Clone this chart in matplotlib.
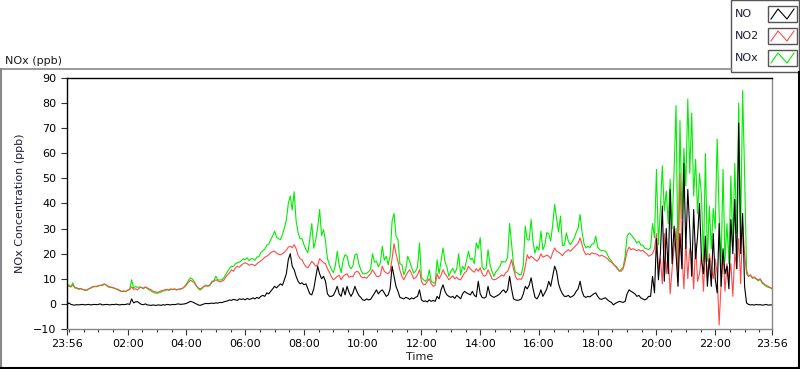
import numpy as np
import pandas as pd
import matplotlib
matplotlib.use("Agg")
from matplotlib import pyplot as plt
from matplotlib.lines import Line2D
from matplotlib.patches import Rectangle
import matplotlib.dates as mdates

# readings every 4 minutes from 23:56 to 23:56 next day, one row per hour
no2 = [
    7.2, 7.0, 6.8, 7.4, 6.6, 6.4, 6.0, 6.2, 5.8, 5.6, 5.5, 6.0, 6.4, 6.8, 7.0,
    7.0, 7.2, 7.4, 7.6, 8.0, 7.6, 7.0, 6.8, 6.6, 6.4, 6.0, 5.8, 5.4, 5.0, 5.2,
    5.0, 5.4, 5.8, 6.8, 5.8, 6.0, 5.6, 6.4, 6.6, 6.2, 6.7, 6.4, 6.0, 5.6, 5.0,
    4.8, 4.6, 4.8, 5.2, 5.4, 5.6, 5.8, 5.6, 6.0, 5.8, 6.0, 5.6, 5.8, 6.0, 6.2,
    6.8, 7.6, 8.6, 9.4, 9.0, 8.4, 7.2, 6.4, 6.0, 6.4, 7.0, 7.2, 7.0, 7.4, 8.6,
    9.0, 9.6, 9.2, 8.8, 9.0, 9.4, 10.6, 11.6, 12.4, 13.6, 13.0, 14.4, 15.0, 14.6, 15.4,
    16.0, 16.4, 16.0, 15.4, 15.8, 15.6, 15.2, 16.0, 16.6, 17.2, 17.8, 18.6, 19.0, 19.6, 20.4,
    20.8, 21.0, 20.2, 19.8, 19.6, 20.0, 20.6, 21.4, 22.6, 23.0, 22.4, 23.6, 22.0, 19.4, 18.0,
    17.6, 16.0, 14.8, 14.4, 15.6, 17.0, 16.2, 15.0, 15.4, 18.0, 17.2, 16.4, 16.0, 14.0, 12.6,
    10.8, 9.6, 10.2, 11.0, 11.4, 9.6, 11.0, 11.6, 12.0, 10.6, 11.0, 10.8, 12.4, 13.0, 12.6,
    11.0, 10.4, 10.6, 10.2, 11.2, 12.0, 13.6, 12.4, 11.0, 10.8, 11.4, 15.0, 13.0, 12.4, 12.0,
    13.0, 18.0, 24.0, 20.0, 17.0, 13.4, 11.0, 9.6, 11.2, 12.6, 13.6, 12.0, 10.0, 10.4, 11.6,
    13.6, 9.0, 7.6, 7.8, 9.0, 10.0, 8.0, 7.0, 7.4, 12.0, 10.0, 11.4, 13.6, 12.0, 11.0,
    9.6, 10.4, 11.2, 10.0, 10.6, 9.8, 9.6, 11.0, 12.4, 13.0, 15.0, 14.0, 13.2, 12.6, 14.0,
    13.0, 14.4, 12.0, 11.0, 11.4, 13.6, 12.0, 10.0, 9.6, 9.8, 10.4, 10.8, 11.6, 11.0, 12.4,
    13.0, 15.0, 17.6, 14.0, 11.0, 9.6, 10.0, 9.8, 11.4, 15.0, 19.6, 18.0, 19.0, 18.4, 17.6,
    17.0, 18.0, 20.0, 18.6, 19.0, 19.4, 19.0, 18.0, 20.4, 22.3, 21.0, 20.6, 20.0, 19.2, 20.4,
    21.0, 21.6, 21.0, 21.8, 22.6, 23.4, 24.2, 26.3, 23.6, 21.0, 19.6, 20.0, 19.6, 20.4, 20.0,
    20.0, 19.6, 19.0, 19.4, 19.0, 18.6, 18.0, 17.0, 16.6, 16.0, 15.0, 14.0, 13.2, 13.0, 14.0,
    17.0, 21.0, 22.6, 21.6, 22.0, 21.6, 21.2, 21.6, 21.0, 21.4, 20.6, 20.0, 19.0, 19.4, 20.0,
    22.0, 28.0, 14.0, 18.0, 8.0, 28.0, 12.0, 20.0, 4.0, 14.0, 22.0, 30.0, 9.0, 52.0, 20.0,
    6.0, 25.0, 10.0, 22.0, 20.0, 6.0, 24.0, 9.0, 12.0, 20.0, 5.0, 22.0, 10.0, 20.0, 15.0,
    10.0, 18.0, 12.0, -8.4, 8.0, 20.0, 5.0, 16.0, 10.0, 16.0, 3.0, 20.0, 14.0, 26.0, 8.0,
    32.0, 20.0, 12.0, 11.0, 11.6, 10.4, 10.8, 10.0, 9.6, 10.0, 8.6, 8.0, 7.4, 7.0, 6.6,
    6.2,
]

no = [
    -0.3, 0.4, -0.2, -0.4, -0.5, -0.3, -0.4, -0.3, -0.2, -0.4, -0.3, -0.2, -0.4, -0.3, -0.2,
    -0.3, -0.2, 0.0, -0.4, -0.3, -0.2, -0.3, -0.4, -0.2, -0.3, -0.1, -0.3, -0.4, -0.2, -0.3,
    -0.2, 0.0, -0.2, 2.0, 0.4, 0.8, 0.9, 0.3, -0.2, -0.3, 0.0, -0.4, -0.5, -0.6, -0.4,
    -0.6, -0.5, -0.4, -0.6, -0.3, -0.5, -0.2, -0.3, -0.4, -0.2, -0.3, -0.1, 0.0, -0.2, -0.1,
    0.0, 0.2, 0.6, 1.0, 0.8, 0.4, 0.0, -0.4, -0.6, -0.3, 0.0, 0.2, 0.1, 0.2, 0.3,
    0.2, 0.4, 0.3, 0.6, 0.5, 0.8, 1.0, 1.2, 1.6, 1.4, 1.8, 1.6, 1.4, 2.0, 1.8,
    2.0, 1.6, 2.2, 1.8, 2.0, 2.4, 2.0, 2.6, 2.2, 3.0, 3.4, 3.0, 4.4, 4.0, 5.0,
    6.0, 7.0, 6.4, 7.2, 8.0, 7.4, 9.6, 12.0, 17.6, 20.0, 15.0, 13.6, 11.0, 9.0, 8.0,
    8.4, 7.6, 8.0, 6.0, 4.0, 3.6, 6.0, 10.4, 15.0, 12.0, 10.0, 11.0, 9.0, 4.0, 3.0,
    3.0, 3.4, 5.0, 7.0, 4.0, 3.0, 6.4, 3.6, 7.0, 4.6, 3.0, 4.4, 7.0, 5.0, 3.4,
    2.6, 1.6, 1.4, 2.0, 1.6, 1.8, 3.0, 4.2, 5.6, 4.0, 5.0, 5.6, 4.4, 3.0, 3.6,
    6.0, 15.0, 11.0, 7.0, 5.0, 2.6, 2.3, 2.0, 2.6, 2.3, 1.8, 2.4, 2.0, 2.6, 3.0,
    5.6, 1.6, 1.0, 1.2, 0.8, 1.6, 1.0, 1.4, 1.0, 3.0, 2.0, 5.6, 7.6, 5.0, 3.6,
    3.0, 2.6, 3.0, 2.2, 3.4, 2.8, 2.0, 4.0, 5.0, 4.4, 4.0, 3.6, 5.0, 3.4, 2.8,
    9.0, 4.0, 2.6, 2.3, 2.8, 7.0, 3.6, 3.0, 2.6, 3.0, 3.4, 4.0, 5.0, 5.6, 4.4,
    5.6, 11.0, 6.0, 2.0, 1.6, 1.4, 1.6, 2.0, 4.0, 7.0, 6.0, 7.4, 10.4, 6.0, 2.6,
    2.0, 3.4, 5.6, 3.0, 4.4, 6.0, 9.0, 7.0, 11.0, 15.0, 13.0, 8.0, 5.6, 4.0, 3.0,
    3.0, 3.4, 2.6, 3.0, 3.6, 5.0, 6.0, 9.0, 5.0, 3.0, 2.6, 3.0, 2.8, 3.4, 4.0,
    4.4, 3.0, 2.0, 1.8, 2.2, 2.4, 1.6, 1.0, 0.6, -0.4, 0.2, 0.6, 1.0, 0.8, 0.6,
    1.0, 4.0, 5.6, 5.0, 4.6, 4.0, 3.0, 3.4, 2.4, 2.0, 1.6, 2.0, 3.0, 3.0, 11.0,
    4.4, 26.0, 9.6, 20.0, 39.0, 9.0, 30.0, 12.0, 45.6, 16.0, 31.0, 20.0, 7.0, 28.0, 14.0,
    56.0, 22.0, 45.6, 30.0, 11.0, 37.6, 18.0, 27.0, 40.0, 17.6, 12.0, 27.0, 7.0, 18.0, 7.0,
    28.0, 10.0, 4.4, 32.0, 7.0, 22.0, 12.0, 15.0, 6.0, 33.6, 20.0, 41.6, 14.0, 72.0, 20.0,
    36.0, 7.0, 0.4, -0.2, -0.4, -0.3, -0.5, -0.2, -0.4, -0.3, -0.5, -0.4, -0.2, -0.5, -0.4,
    -0.4,
]

nox = [
    7.0, 7.6, 6.8, 8.4, 6.3, 6.2, 5.8, 6.0, 5.7, 5.4, 5.3, 5.9, 6.2, 6.6, 6.9,
    6.8, 7.1, 7.4, 7.3, 7.8, 7.5, 6.8, 6.5, 6.5, 6.2, 6.0, 5.6, 5.1, 4.9, 5.0,
    4.9, 5.5, 5.7, 9.6, 6.4, 6.9, 6.6, 6.8, 6.5, 6.0, 6.8, 6.1, 5.6, 5.1, 4.7,
    4.3, 4.2, 4.5, 4.7, 5.2, 5.2, 5.7, 5.4, 5.7, 5.7, 5.8, 5.6, 5.9, 5.9, 6.2,
    6.9, 7.9, 9.3, 10.4, 9.9, 8.9, 7.3, 6.1, 5.5, 6.2, 7.1, 7.5, 7.2, 7.7, 9.0,
    9.3, 11.0, 9.6, 9.5, 9.6, 10.3, 11.7, 12.9, 14.2, 15.0, 14.9, 16.0, 16.4, 16.6, 17.2,
    18.0, 17.6, 18.4, 17.2, 18.0, 18.0, 17.4, 18.7, 18.8, 20.4, 21.2, 21.8, 23.4, 23.8, 25.6,
    27.0, 29.0, 26.6, 26.0, 25.6, 27.6, 30.2, 33.4, 40.0, 43.0, 37.4, 44.7, 33.0, 28.4, 26.0,
    26.0, 23.6, 21.6, 20.4, 26.0, 32.0, 22.2, 25.4, 30.4, 37.6, 27.2, 29.6, 25.0, 18.0, 15.6,
    13.8, 12.4, 15.2, 21.0, 15.4, 12.4, 17.4, 19.6, 19.0, 15.2, 14.0, 15.2, 19.4, 20.0, 16.0,
    13.6, 12.0, 12.0, 12.2, 12.8, 13.8, 20.0, 16.6, 17.0, 14.8, 16.4, 23.0, 17.4, 19.0, 15.6,
    19.0, 33.0, 36.0, 27.0, 25.6, 16.0, 15.6, 11.6, 13.8, 19.0, 17.0, 14.4, 12.3, 13.0, 14.6,
    24.3, 10.6, 9.6, 9.0, 9.8, 13.6, 9.0, 8.4, 8.3, 17.6, 12.0, 17.0, 22.3, 17.0, 14.6,
    11.0, 13.0, 14.2, 12.2, 14.0, 20.0, 11.6, 15.0, 13.6, 17.4, 21.0, 17.6, 18.2, 16.0, 24.3,
    22.0, 26.4, 14.6, 13.6, 14.2, 21.6, 15.6, 13.0, 11.0, 12.8, 13.8, 14.8, 17.0, 16.6, 16.8,
    18.6, 32.0, 24.0, 16.0, 12.6, 12.3, 11.6, 11.8, 15.4, 31.0, 25.6, 25.4, 33.6, 24.4, 20.2,
    23.0, 21.4, 29.0, 21.6, 23.4, 28.4, 28.0, 25.0, 31.4, 39.6, 34.0, 28.6, 35.0, 23.2, 23.4,
    28.3, 25.0, 23.6, 24.8, 26.2, 28.4, 30.2, 35.6, 28.6, 24.0, 22.3, 23.0, 22.4, 23.8, 24.0,
    27.0, 22.6, 21.6, 21.2, 21.2, 21.0, 19.6, 18.0, 17.2, 15.6, 15.2, 14.6, 13.0, 13.8, 14.6,
    19.0, 27.0, 28.2, 27.6, 26.6, 25.6, 24.2, 25.0, 23.4, 23.4, 22.2, 22.0, 21.6, 22.4, 32.0,
    26.4, 53.6, 23.6, 38.0, 55.0, 37.0, 45.0, 32.0, 49.6, 30.0, 53.0, 79.0, 16.0, 73.0, 34.0,
    62.0, 47.0, 81.6, 52.0, 76.0, 43.0, 57.6, 36.0, 52.0, 43.0, 17.0, 60.0, 17.0, 39.0, 22.0,
    38.0, 30.0, 65.6, 36.0, 15.0, 53.6, 17.0, 32.0, 16.0, 51.0, 23.0, 56.0, 28.0, 80.0, 28.0,
    85.0, 52.0, 13.6, 11.0, 11.4, 10.2, 10.4, 9.8, 9.2, 9.8, 8.2, 7.6, 7.0, 6.6, 6.4,
    6.0,
]

times = pd.date_range("2020-01-01 23:56", periods=len(no), freq="4min")
major_ticks = ["2020-01-01 23:56", "2020-01-02 02:00", "2020-01-02 04:00",
               "2020-01-02 06:00", "2020-01-02 08:00", "2020-01-02 10:00",
               "2020-01-02 12:00", "2020-01-02 14:00", "2020-01-02 16:00",
               "2020-01-02 18:00", "2020-01-02 20:00", "2020-01-02 22:00",
               "2020-01-02 23:56"]

W, H = 800, 369
fig = plt.figure(figsize=(8, 3.69), dpi=100)
plt.rcParams['font.family'] = ['DejaVu Sans']
fs = 8

ax = fig.add_axes([67 / W, 1 - 329 / H, (772 - 67) / W, (329 - 78) / H])
ax.plot(times, nox, color='#00ee00', lw=0.8, label='NOx')
ax.plot(times, no2, color='#ff4a4a', lw=0.8, label='NO2')
ax.plot(times, no, color='black', lw=0.8, label='NO')

ax.set_xlim(times[0], times[-1])
ax.set_ylim(-10, 90)
ax.set_yticks(np.arange(-10, 91, 10))
ax.xaxis.set_major_locator(matplotlib.ticker.FixedLocator(mdates.date2num(pd.to_datetime(major_ticks))))
ax.xaxis.set_major_formatter(mdates.DateFormatter("%H:%M"))
ax.xaxis.set_minor_locator(mdates.MinuteLocator(byminute=[0, 30]))
ax.tick_params(axis='both', labelsize=fs, direction='out', length=4, width=0.8, color='#333333')
ax.tick_params(axis='x', which='minor', length=2.5, width=0.8, color='#333333')
ax.tick_params(axis='x', pad=3)
for s in ['left', 'top']:
    ax.spines[s].set_color('black')
    ax.spines[s].set_linewidth(1.0)
for s in ['right', 'bottom']:
    ax.spines[s].set_color('#888888')
    ax.spines[s].set_linewidth(1.0)

ax.set_ylabel('NOx Concentration (ppb)', fontsize=fs, color='#1c1c3a', labelpad=6)
ax.set_xlabel('Time', fontsize=fs, color='#1c1c1c', labelpad=2)

# outer panel frame
fig.add_artist(Line2D([0.5 / W, 731 / W], [1 - 69 / H, 1 - 69 / H], color='#888888', lw=1.2))
fig.add_artist(Line2D([0.8 / W, 0.8 / W], [1 - 69 / H, 0], color='#888888', lw=1.5))
fig.add_artist(Line2D([0, 1], [1.2 / H, 1.2 / H], color='black', lw=1.5))
fig.add_artist(Line2D([799.2 / W, 799.2 / W], [0, 1 - 72 / H], color='black', lw=1.5))
fig.text(5 / W, 1 - 61 / H, 'NOx (ppb)', fontsize=fs, va='center', ha='left', color='#1c1c1c')

# legend panel
fig.add_artist(Rectangle((730.5 / W, 1 - 72 / H), 68.5 / W, 72 / H, transform=fig.transFigure,
                         facecolor='white', edgecolor='#555555', lw=1.0))
leg_names = ['NO', 'NO2', 'NOx']
leg_colors = ['black', '#ff4a4a', '#00ee00']
leg_rows = [14, 36, 58]
for name, col, yc in zip(leg_names, leg_colors, leg_rows):
    fig.text(735 / W, 1 - yc / H, name, fontsize=fs, va='center', ha='left', color='#1c1c3a')
    x0, x1 = 768, 797
    y0, y1 = yc - 8, yc + 8
    fig.add_artist(Rectangle((x0 / W, 1 - y1 / H), (x1 - x0) / W, (y1 - y0) / H,
                             transform=fig.transFigure, facecolor='white', edgecolor='#555555', lw=1.0))
    zx = [x0 + 3, x0 + 10, x0 + 19, x0 + 26]
    zy = [y1 - 3, y0 + 3, y1 - 3, y0 + 3]
    fig.add_artist(Line2D([v / W for v in zx], [1 - v / H for v in zy], color=col, lw=0.8))

fig.savefig('out.png', dpi=100)
